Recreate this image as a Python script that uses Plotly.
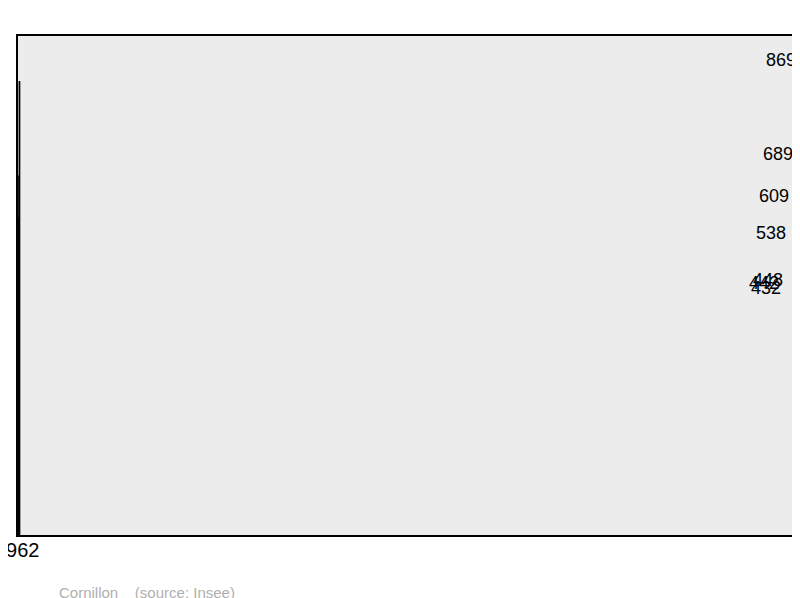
import plotly.graph_objects as go

years = ["1962", "1968", "1975", "1982", "1990", "1999", "2008"]
population = [442, 432, 448, 538, 609, 689, 869]

fig = go.Figure(go.Bar(
    x=years, y=population, width=0.57,
    marker=dict(color="#7099ff", line=dict(color="black", width=1.5)),
))
for yr, v in zip(years, population):
    fig.add_annotation(x=yr, y=v, text=str(v), showarrow=False, yshift=22,
                       font=dict(family="Liberation Sans, Arial", size=18, color="black"))
fig.add_annotation(xref="paper", yref="paper", x=0.051, y=-0.112, xanchor="left", yanchor="middle",
                   text="Cornillon    (source: Insee)", showarrow=False,
                   font=dict(family="Liberation Sans, Arial", size=15, color="#b0b0b0"))
fig.add_shape(type="rect", xref="paper", yref="paper", x0=0, y0=0, x1=1, y1=1,
              line=dict(color="black", width=2), layer="above")
fig.update_layout(
    width=800, height=598, margin=dict(l=9, r=10, t=27, b=70, autoexpand=False),
    paper_bgcolor="white", plot_bgcolor="#ececec", showlegend=False,
    xaxis=dict(type="category", showgrid=False, ticks="",
               tickfont=dict(family="Liberation Sans, Arial", size=20, color="black")),
    yaxis=dict(range=[0, 958.6], visible=False, showgrid=False),
)
fig.write_html("out.html")
